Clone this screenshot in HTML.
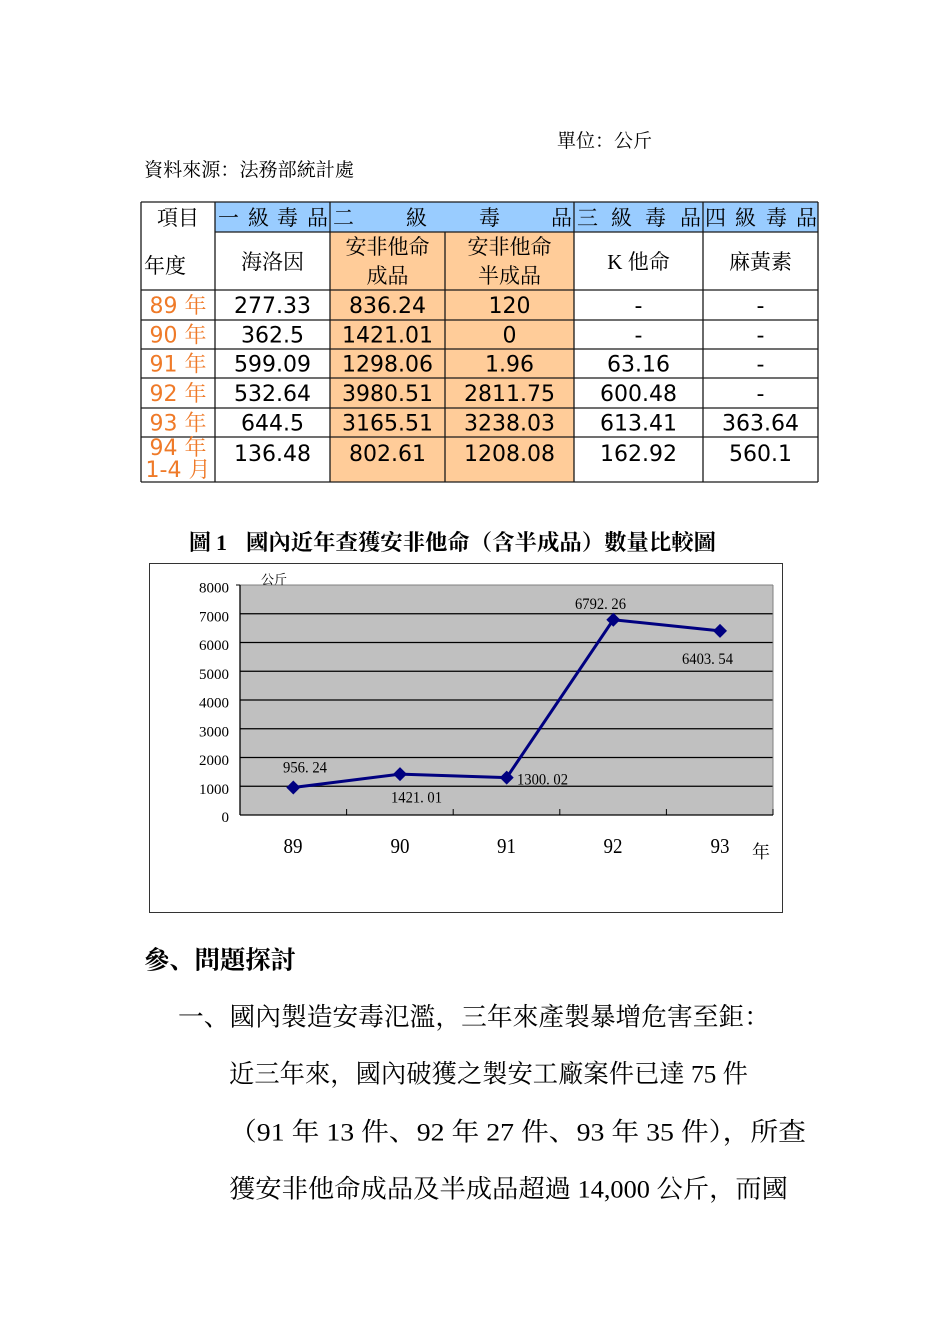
<!DOCTYPE html>
<html>
<head>
<meta charset="utf-8">
<style>
html,body{margin:0;padding:0;background:#fff;}
body{width:950px;height:1344px;overflow:hidden;}
svg{display:block;}
.cjk{font-family:"Liberation Serif","Noto Serif CJK SC",serif;}
.num{font-family:"DejaVu Sans","Noto Serif CJK SC",sans-serif;}
.ser{font-family:"Liberation Serif","Noto Serif CJK SC",serif;}
</style>
</head>
<body>
<svg width="950" height="1344" viewBox="0 0 950 1344" xmlns="http://www.w3.org/2000/svg">
  <rect x="0" y="0" width="950" height="1344" fill="#fff"/>

  <!-- Top notes -->
  <text class="cjk" x="557" y="147" font-size="19" fill="#000" textLength="95" lengthAdjust="spacingAndGlyphs">單位：公斤</text>
  <text class="cjk" x="144" y="176" font-size="19" fill="#000" textLength="210" lengthAdjust="spacingAndGlyphs">資料來源：法務部統計處</text>

  <!-- Table fills -->
  <rect x="215" y="202" width="603" height="30" fill="#99ccff"/>
  <rect x="330" y="232" width="244" height="250" fill="#ffcc99"/>

  <!-- Table lines -->
  <g stroke="#1a1a1a" stroke-width="1.3" fill="none">
    <line x1="141" y1="202" x2="818" y2="202"/>
    <line x1="215" y1="232" x2="818" y2="232"/>
    <line x1="141" y1="290" x2="818" y2="290"/>
    <line x1="141" y1="320" x2="818" y2="320"/>
    <line x1="141" y1="349" x2="818" y2="349"/>
    <line x1="141" y1="378" x2="818" y2="378"/>
    <line x1="141" y1="408" x2="818" y2="408"/>
    <line x1="141" y1="437" x2="818" y2="437"/>
    <line x1="141" y1="482" x2="818" y2="482"/>
    <line x1="141" y1="202" x2="141" y2="482"/>
    <line x1="215" y1="202" x2="215" y2="482"/>
    <line x1="330" y1="202" x2="330" y2="482"/>
    <line x1="445" y1="232" x2="445" y2="482"/>
    <line x1="574" y1="202" x2="574" y2="482"/>
    <line x1="703" y1="202" x2="703" y2="482"/>
    <line x1="818" y1="202" x2="818" y2="482"/>
  </g>

  <!-- Table header -->
  <g class="cjk" font-size="21" fill="#000">
    <text x="178" y="225" text-anchor="middle">項目</text>
    <text x="144" y="273">年度</text>
    <text x="218" y="225">一</text><text x="248" y="225">級</text><text x="277" y="225">毒</text><text x="307" y="225">品</text>
    <text x="333" y="225">二</text><text x="406" y="225">級</text><text x="479" y="225">毒</text><text x="551" y="225">品</text>
    <text x="577" y="225">三</text><text x="611" y="225">級</text><text x="645" y="225">毒</text><text x="680" y="225">品</text>
    <text x="705" y="225">四</text><text x="735" y="225">級</text><text x="766" y="225">毒</text><text x="796" y="225">品</text>
    <text x="272.5" y="269" text-anchor="middle">海洛因</text>
    <text x="387.5" y="254" text-anchor="middle">安非他命</text>
    <text x="387.5" y="283" text-anchor="middle">成品</text>
    <text x="509.5" y="254" text-anchor="middle">安非他命</text>
    <text x="509.5" y="283" text-anchor="middle">半成品</text>
    <text x="638.5" y="269" text-anchor="middle">K 他命</text>
    <text x="760.5" y="269" text-anchor="middle">麻黃素</text>
  </g>

  <!-- Table data -->
  <g class="num" font-size="22" fill="#ef7a28" text-anchor="middle">
    <text x="178" y="313">89 年</text>
    <text x="178" y="342.5">90 年</text>
    <text x="178" y="371.5">91 年</text>
    <text x="178" y="401">92 年</text>
    <text x="178" y="430.5">93 年</text>
    <text x="178" y="455">94 年</text>
    <text x="178" y="477">1-4 月</text>
  </g>
  <g class="num" font-size="22" fill="#000" text-anchor="middle">
    <text x="272.5" y="313">277.33</text>
    <text x="387.5" y="313">836.24</text>
    <text x="509.5" y="313">120</text>
    <text x="638.5" y="313">-</text>
    <text x="760.5" y="313">-</text>

    <text x="272.5" y="342.5">362.5</text>
    <text x="387.5" y="342.5">1421.01</text>
    <text x="509.5" y="342.5">0</text>
    <text x="638.5" y="342.5">-</text>
    <text x="760.5" y="342.5">-</text>

    <text x="272.5" y="371.5">599.09</text>
    <text x="387.5" y="371.5">1298.06</text>
    <text x="509.5" y="371.5">1.96</text>
    <text x="638.5" y="371.5">63.16</text>
    <text x="760.5" y="371.5">-</text>

    <text x="272.5" y="401">532.64</text>
    <text x="387.5" y="401">3980.51</text>
    <text x="509.5" y="401">2811.75</text>
    <text x="638.5" y="401">600.48</text>
    <text x="760.5" y="401">-</text>

    <text x="272.5" y="430.5">644.5</text>
    <text x="387.5" y="430.5">3165.51</text>
    <text x="509.5" y="430.5">3238.03</text>
    <text x="638.5" y="430.5">613.41</text>
    <text x="760.5" y="430.5">363.64</text>

    <text x="272.5" y="461">136.48</text>
    <text x="387.5" y="461">802.61</text>
    <text x="509.5" y="461">1208.08</text>
    <text x="638.5" y="461">162.92</text>
    <text x="760.5" y="461">560.1</text>
  </g>

  <!-- Chart title -->
  <text class="cjk" x="189" y="550" font-size="22" font-weight="700" fill="#000">圖</text>
  <text class="ser" x="216" y="550" font-size="22" font-weight="700" fill="#000">1</text>
  <text class="cjk" x="246" y="550" font-size="22" font-weight="700" fill="#000" textLength="470" lengthAdjust="spacingAndGlyphs">國內近年查獲安非他命（含半成品）數量比較圖</text>

  <!-- Chart box -->
  <rect x="149.5" y="563.5" width="633" height="349" fill="#fff" stroke="#333" stroke-width="1"/>

  <!-- Plot area -->
  <rect x="240" y="585" width="533" height="230" fill="#c0c0c0"/>
  <g stroke="#000" stroke-width="1.2">
    <line x1="240" y1="786.25" x2="773" y2="786.25"/>
    <line x1="240" y1="757.5" x2="773" y2="757.5"/>
    <line x1="240" y1="728.75" x2="773" y2="728.75"/>
    <line x1="240" y1="700" x2="773" y2="700"/>
    <line x1="240" y1="671.25" x2="773" y2="671.25"/>
    <line x1="240" y1="642.5" x2="773" y2="642.5"/>
    <line x1="240" y1="613.75" x2="773" y2="613.75"/>
  </g>
  <line x1="240" y1="585" x2="773" y2="585" stroke="#808080" stroke-width="1"/>
  <line x1="773" y1="585" x2="773" y2="815" stroke="#808080" stroke-width="1"/>
  <line x1="240" y1="585" x2="240" y2="815" stroke="#000" stroke-width="1.3"/>
  <line x1="236" y1="585" x2="240" y2="585" stroke="#000" stroke-width="1"/>
  <line x1="240" y1="815" x2="773" y2="815" stroke="#000" stroke-width="1.3"/>
  <g stroke="#000" stroke-width="1">
    <line x1="346.6" y1="809" x2="346.6" y2="815"/>
    <line x1="453.2" y1="809" x2="453.2" y2="815"/>
    <line x1="559.8" y1="809" x2="559.8" y2="815"/>
    <line x1="666.4" y1="809" x2="666.4" y2="815"/>
    <line x1="773" y1="809" x2="773" y2="815"/>
  </g>

  <!-- Y labels -->
  <g class="ser" font-size="15" fill="#000" text-anchor="end">
    <text x="229" y="592.5">8000</text>
    <text x="229" y="621.5">7000</text>
    <text x="229" y="650">6000</text>
    <text x="229" y="679">5000</text>
    <text x="229" y="707.5">4000</text>
    <text x="229" y="736.5">3000</text>
    <text x="229" y="765">2000</text>
    <text x="229" y="794">1000</text>
    <text x="229" y="822">0</text>
  </g>
  <text class="cjk" x="261" y="584" font-size="13" fill="#000">公斤</text>

  <!-- X labels -->
  <g class="ser" font-size="21" fill="#000">
    <text x="283.5" y="853" textLength="19" lengthAdjust="spacingAndGlyphs">89</text>
    <text x="390.5" y="853" textLength="19" lengthAdjust="spacingAndGlyphs">90</text>
    <text x="497" y="853" textLength="19" lengthAdjust="spacingAndGlyphs">91</text>
    <text x="603.5" y="853" textLength="19" lengthAdjust="spacingAndGlyphs">92</text>
    <text x="710.5" y="853" textLength="19" lengthAdjust="spacingAndGlyphs">93</text>
  </g>
  <text class="cjk" x="752" y="858" font-size="18" fill="#000">年</text>

  <!-- Series -->
  <polyline points="293.3,787.5 400,774.1 506.7,777.6 613.3,619.7 720,630.9" fill="none" stroke="#000080" stroke-width="3" stroke-linejoin="round"/>
  <g fill="#000080">
    <polygon points="293.3,780.5 300.3,787.5 293.3,794.5 286.3,787.5"/>
    <polygon points="400,767.1 407,774.1 400,781.1 393,774.1"/>
    <polygon points="506.7,770.6 513.7,777.6 506.7,784.6 499.7,777.6"/>
    <polygon points="613.3,612.7 620.3,619.7 613.3,626.7 606.3,619.7"/>
    <polygon points="720,623.9 727,630.9 720,637.9 713,630.9"/>
  </g>

  <!-- Data labels -->
  <g class="ser" font-size="16" fill="#000">
    <text x="283" y="772.5" textLength="44" lengthAdjust="spacingAndGlyphs">956. 24</text>
    <text x="391" y="802.5" textLength="51" lengthAdjust="spacingAndGlyphs">1421. 01</text>
    <text x="517" y="784.5" textLength="51" lengthAdjust="spacingAndGlyphs">1300. 02</text>
    <text x="575" y="609" textLength="51" lengthAdjust="spacingAndGlyphs">6792. 26</text>
    <text x="682" y="664" textLength="51" lengthAdjust="spacingAndGlyphs">6403. 54</text>
  </g>

  <!-- Body text -->
  <text class="cjk" x="144" y="968.5" font-size="25" font-weight="700" fill="#000" textLength="152" lengthAdjust="spacingAndGlyphs">參、問題探討</text>
  <text class="cjk" x="178" y="1025.5" font-size="25.5" fill="#000" textLength="592" lengthAdjust="spacingAndGlyphs">一、國內製造安毒氾濫，三年來產製暴增危害至鉅：</text>
  <text class="cjk" x="229" y="1082.5" font-size="25.5" fill="#000" textLength="519" lengthAdjust="spacingAndGlyphs">近三年來，國內破獲之製安工廠案件已達 75 件</text>
  <text class="cjk" x="229" y="1140.5" font-size="25.5" fill="#000" textLength="577" lengthAdjust="spacingAndGlyphs">（91 年 13 件、92 年 27 件、93 年 35 件），所查</text>
  <text class="cjk" x="229" y="1197.5" font-size="25.5" fill="#000" textLength="559" lengthAdjust="spacingAndGlyphs">獲安非他命成品及半成品超過 14,000 公斤，而國</text>
</svg>
</body>
</html>
